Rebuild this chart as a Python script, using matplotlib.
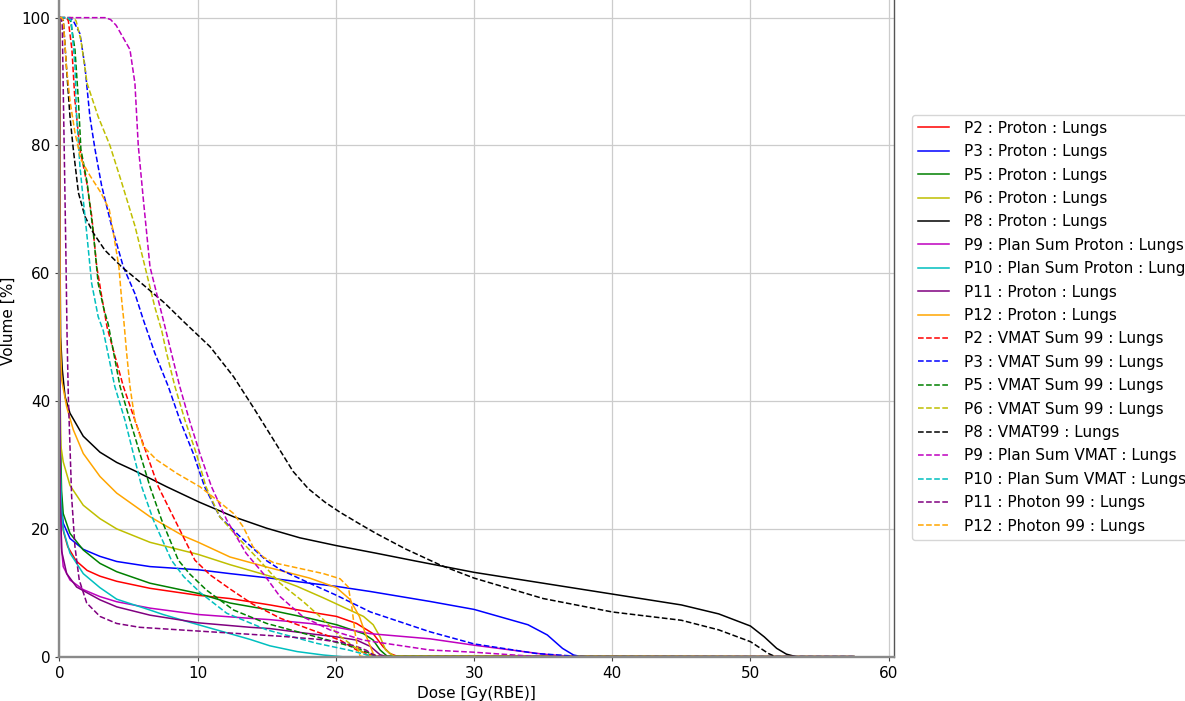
import matplotlib

matplotlib.use("Agg")
import matplotlib.pyplot as plt

# Cumulative DVH, lungs: proton plans (solid) vs VMAT / photon plans (dashed).
# Each series is dose [Gy(RBE)] and volume [%].

P2_PROTON_DOSE = [0, 0.02, 0.06, 0.12, 0.3, 0.6, 1.2, 2.0, 2.93, 4.14, 6.55, 10.05, 12.34, 15.23, 18.1, 20.05, 21.5, 22.7, 23.4, 23.9, 24.4, 57.5]
P2_PROTON_VOL = [100, 60, 30, 22.5, 19.5, 17.2, 15.0, 13.5, 12.6, 11.8, 10.7, 9.6, 9.1, 8.1, 7.0, 6.3, 5.2, 3.6, 1.6, 0.5, 0.1, 0]

P3_PROTON_DOSE = [0, 0.02, 0.06, 0.15, 0.27, 0.76, 1.72, 2.93, 4.14, 6.55, 10.05, 12.34, 15.23, 18.1, 20.05, 22.5, 26.8, 30, 33.9, 35.3, 36.4, 37.2, 37.8, 57.5]
P3_PROTON_VOL = [100, 60, 30, 23.5, 20.9, 18.5, 16.8, 15.7, 14.9, 14.1, 13.6, 13.0, 12.3, 11.5, 11.0, 10.2, 8.65, 7.4, 5.0, 3.4, 1.3, 0.26, 0, 0]

P5_PROTON_DOSE = [0, 0.02, 0.06, 0.15, 0.27, 0.76, 1.72, 2.93, 4.14, 6.55, 10.05, 12.34, 15.23, 18.1, 20.05, 22.0, 22.7, 23.2, 23.7, 57.5]
P5_PROTON_VOL = [100, 60, 35, 26, 22.4, 19.3, 16.7, 14.6, 13.3, 11.5, 9.9, 8.4, 7.3, 6.0, 5.0, 3.6, 2.6, 1.05, 0.1, 0]

P6_PROTON_DOSE = [0, 0.02, 0.05, 0.1, 0.27, 0.76, 1.72, 2.93, 4.14, 6.55, 10.05, 12.34, 15.23, 17.2, 19.1, 20.5, 22.0, 22.7, 23.2, 23.6, 24.2, 57.5]
P6_PROTON_VOL = [100, 60, 40, 33, 30.5, 26.8, 23.7, 21.6, 20.0, 17.9, 16.0, 14.4, 12.6, 11.0, 9.2, 7.8, 6.3, 5.0, 3.1, 1.05, 0.1, 0]

P8_PROTON_DOSE = [0, 0.02, 0.08, 0.2, 0.4, 0.76, 1.72, 2.93, 4.14, 5.34, 6.55, 7.75, 10.1, 12.6, 15.0, 17.4, 20.0, 22.9, 25.7, 30, 35, 40, 45, 47.7, 50, 51.0, 51.9, 52.6, 53.3, 57.5]
P8_PROTON_VOL = [100, 70, 50, 45, 40.7, 38.1, 34.5, 32.0, 30.4, 29.2, 27.9, 26.6, 24.2, 21.9, 20.1, 18.6, 17.4, 16.2, 15.0, 13.2, 11.5, 9.8, 8.1, 6.7, 4.8, 3.1, 1.3, 0.4, 0, 0]

P9_PROTON_DOSE = [0, 0.02, 0.06, 0.15, 0.27, 0.76, 1.72, 2.93, 4.14, 6.55, 10.05, 13.8, 15.23, 18.1, 20.05, 22.5, 26.8, 30, 35, 36.7, 37.5, 57.5]
P9_PROTON_VOL = [100, 50, 25, 17, 14.1, 12.0, 10.5, 9.4, 8.6, 7.6, 6.6, 6.0, 5.8, 5.2, 4.6, 3.6, 2.8, 1.8, 0.4, 0.1, 0, 0]

P10_PROTON_DOSE = [0, 0.02, 0.06, 0.15, 0.27, 0.76, 1.72, 2.93, 4.14, 6.55, 7.5, 9.4, 12.34, 13.8, 15.23, 17.2, 19.1, 20.5, 57.5]
P10_PROTON_VOL = [100, 50, 30, 23, 19.9, 16.2, 13.0, 10.8, 9.0, 7.3, 6.6, 5.4, 3.6, 2.7, 1.7, 0.8, 0.26, 0, 0]

P11_PROTON_DOSE = [0, 0.02, 0.06, 0.16, 0.52, 1.24, 2.93, 4.14, 6.55, 10.05, 13.8, 15.23, 18.1, 20.05, 21.5, 22.5, 23.2, 23.7, 57.5]
P11_PROTON_VOL = [100, 50, 25, 16.5, 13.0, 10.9, 8.9, 7.8, 6.5, 5.3, 4.6, 4.4, 3.6, 3.1, 2.6, 1.6, 0.3, 0, 0]

P12_PROTON_DOSE = [0, 0.02, 0.06, 0.16, 0.52, 1.0, 1.72, 2.93, 4.14, 6.55, 8.96, 10.05, 12.34, 15.23, 18.1, 20.05, 21.0, 21.7, 22.2, 22.7, 22.9, 57.5]
P12_PROTON_VOL = [100, 70, 50, 43.3, 39.1, 35.5, 31.8, 28.2, 25.6, 21.9, 18.9, 17.9, 15.6, 13.9, 12.3, 10.8, 9.0, 6.3, 3.2, 0.5, 0, 0]

P2_VMAT_DOSE = [0, 0.5, 0.64, 0.9, 1.12, 1.48, 1.97, 2.33, 2.7, 3.1, 3.45, 4.62, 5.46, 6.3, 7.15, 8.35, 9.8, 10.9, 12.34, 14.0, 16.0, 18.1, 20.3, 21.5, 22.5, 23.2, 57.5]
P2_VMAT_VOL = [100, 100, 99.5, 95, 87, 79.4, 74.2, 69, 61, 55.8, 51.5, 42.3, 37, 31.8, 26.6, 21.4, 15.1, 12.8, 10.6, 8.2, 6.0, 4.3, 2.6, 1.05, 0.3, 0, 0]

P3_VMAT_DOSE = [0, 0.8, 1.0, 1.48, 1.84, 2.2, 2.57, 3.05, 3.77, 4.62, 5.46, 6.07, 6.9, 7.87, 8.72, 9.68, 10.5, 11.6, 13.06, 15.0, 16.0, 18.1, 20.05, 22.5, 26.8, 30, 34.5, 37.2, 38, 57.5]
P3_VMAT_VOL = [100, 100, 99.5, 97.5, 92.4, 84.5, 79.4, 73.7, 67.4, 61, 56.8, 52.7, 47.5, 42.3, 37, 31.8, 26.6, 21.9, 18.8, 15.0, 13.6, 11.5, 9.6, 7.0, 3.9, 2.0, 0.5, 0.1, 0, 0]

P5_VMAT_DOSE = [0, 0.6, 0.8, 1.12, 1.37, 1.55, 2.0, 2.45, 2.8, 3.2, 3.53, 4.38, 5.1, 5.82, 6.55, 7.39, 8.6, 9.4, 10.65, 12.6, 15.0, 18.6, 21.3, 22.5, 23.0, 57.5]
P5_VMAT_VOL = [100, 100, 99.5, 95, 87, 79.4, 74.2, 66.3, 58.4, 54.5, 52.0, 42.3, 37, 31.8, 26.6, 21.4, 15.1, 13.0, 10.4, 7.3, 5.2, 3.1, 1.5, 0.5, 0, 0]

P6_VMAT_DOSE = [0, 1.0, 1.2, 1.55, 2.0, 2.8, 3.65, 4.5, 5.46, 6.19, 6.9, 7.4, 7.75, 8.35, 9.08, 9.9, 10.6, 11.6, 13.06, 14.5, 15.96, 17.65, 19.1, 20.3, 21.3, 22.2, 23.0, 57.5]
P6_VMAT_VOL = [100, 100, 99.5, 96.5, 89.7, 84.5, 80, 74.2, 67.4, 61, 54.7, 51, 47.5, 42.3, 37, 31.8, 26.6, 21.9, 18.3, 15.0, 11.5, 8.6, 5.8, 3.2, 1.6, 0.3, 0, 0]

P8_VMAT_DOSE = [0, 0.1, 0.28, 0.5, 0.76, 1.0, 1.37, 1.84, 2.45, 3.29, 4.5, 5.95, 7.63, 9.0, 10.9, 12.6, 14.0, 15.5, 16.9, 18.0, 19.2, 20.3, 21.7, 22.9, 25.0, 27.6, 30, 35, 40, 45, 47.7, 50, 51.3, 51.8, 57.5]
P8_VMAT_VOL = [100, 100, 99.5, 92.4, 84.5, 79.4, 72.6, 68.9, 66.3, 63.6, 61, 58.4, 55.3, 52.4, 48.5, 43.8, 39.1, 33.9, 29.0, 26.3, 24.2, 22.6, 20.8, 19.3, 16.9, 14.3, 12.3, 9.1, 7.0, 5.7, 4.2, 2.35, 0.5, 0, 0]

P9_VMAT_DOSE = [0, 3.3, 3.7, 4.1, 5.1, 5.46, 5.7, 6.07, 6.55, 7.15, 7.51, 8.1, 8.7, 9.4, 10.16, 11.0, 12.1, 13.5, 14.75, 15.96, 17.65, 19.57, 21.98, 26.8, 30, 34, 35, 57.5]
P9_VMAT_VOL = [100, 100, 99.7, 98.8, 95, 89.7, 80, 71.5, 61, 55.8, 52.7, 47.5, 42.3, 37, 31.8, 26.6, 21.4, 16.2, 13.0, 9.4, 6.2, 4.2, 2.6, 1.05, 0.7, 0.1, 0, 0]

P10_VMAT_DOSE = [0, 0.6, 0.85, 1.12, 1.24, 1.48, 1.72, 1.97, 2.33, 2.8, 3.17, 4.0, 4.74, 5.34, 5.95, 6.79, 8.1, 9.0, 10.2, 12.1, 15.0, 18.6, 21.0, 22.2, 22.8, 57.5]
P10_VMAT_VOL = [100, 100, 99.5, 92.4, 84.5, 76.7, 71.5, 66.3, 58.4, 53.2, 51, 42.3, 37, 31.8, 26.6, 21.4, 15.1, 12.5, 10.0, 6.8, 4.2, 2.1, 1.0, 0.3, 0, 0]

P11_VMAT_DOSE = [0, 0.1, 0.2, 0.3, 0.45, 0.55, 0.64, 0.88, 1.12, 1.43, 1.97, 2.93, 4.14, 5.8, 9.4, 13.1, 16.0, 18.8, 20.5, 21.5, 22.2, 22.7, 23.3, 57.5]
P11_VMAT_VOL = [100, 100, 99, 85, 65, 50, 40.7, 25, 17.2, 12, 8.4, 6.3, 5.2, 4.6, 4.1, 3.6, 3.2, 2.7, 2.2, 1.6, 1.0, 0.3, 0, 0]

P12_VMAT_DOSE = [0, 0.15, 0.28, 0.5, 0.76, 1.12, 1.55, 2.2, 3.0, 3.6, 3.9, 4.3, 4.5, 4.65, 4.86, 5.1, 5.46, 6.07, 7.03, 8.48, 10.16, 11.4, 12.6, 13.3, 14.0, 14.75, 15.5, 17.2, 19.1, 20.3, 20.9, 21.15, 21.4, 21.6, 21.75, 22.0, 57.5]
P12_VMAT_VOL = [100, 100, 99.5, 92.4, 87, 82, 77.8, 75.3, 72.6, 70, 66.3, 61, 55.8, 52.7, 47.5, 42.3, 37, 32.9, 30.8, 28.7, 26.6, 24.5, 22.4, 20.3, 17.2, 15.6, 14.7, 13.9, 13.0, 12.2, 10.9, 7.8, 3.6, 1.05, 0.1, 0, 0]

SERIES = [
    ("P2 : Proton : Lungs", P2_PROTON_DOSE, P2_PROTON_VOL, "r", "-"),
    ("P3 : Proton : Lungs", P3_PROTON_DOSE, P3_PROTON_VOL, "b", "-"),
    ("P5 : Proton : Lungs", P5_PROTON_DOSE, P5_PROTON_VOL, "g", "-"),
    ("P6 : Proton : Lungs", P6_PROTON_DOSE, P6_PROTON_VOL, "y", "-"),
    ("P8 : Proton : Lungs", P8_PROTON_DOSE, P8_PROTON_VOL, "k", "-"),
    ("P9 : Plan Sum Proton : Lungs", P9_PROTON_DOSE, P9_PROTON_VOL, "m", "-"),
    ("P10 : Plan Sum Proton : Lungs", P10_PROTON_DOSE, P10_PROTON_VOL, "c", "-"),
    ("P11 : Proton : Lungs", P11_PROTON_DOSE, P11_PROTON_VOL, "purple", "-"),
    ("P12 : Proton : Lungs", P12_PROTON_DOSE, P12_PROTON_VOL, "orange", "-"),
    ("P2 : VMAT Sum 99 : Lungs", P2_VMAT_DOSE, P2_VMAT_VOL, "r", "--"),
    ("P3 : VMAT Sum 99 : Lungs", P3_VMAT_DOSE, P3_VMAT_VOL, "b", "--"),
    ("P5 : VMAT Sum 99 : Lungs", P5_VMAT_DOSE, P5_VMAT_VOL, "g", "--"),
    ("P6 : VMAT Sum 99 : Lungs", P6_VMAT_DOSE, P6_VMAT_VOL, "y", "--"),
    ("P8 : VMAT99 : Lungs", P8_VMAT_DOSE, P8_VMAT_VOL, "k", "--"),
    ("P9 : Plan Sum VMAT : Lungs", P9_VMAT_DOSE, P9_VMAT_VOL, "m", "--"),
    ("P10 : Plan Sum VMAT : Lungs", P10_VMAT_DOSE, P10_VMAT_VOL, "c", "--"),
    ("P11 : Photon 99 : Lungs", P11_VMAT_DOSE, P11_VMAT_VOL, "purple", "--"),
    ("P12 : Photon 99 : Lungs", P12_VMAT_DOSE, P12_VMAT_VOL, "orange", "--"),
]

fig = plt.figure(figsize=(11.85, 7.01), dpi=100)
ax = fig.add_axes([0.0502, 0.0632, 0.7041, 0.9572])

for label, dose, vol, color, ls in SERIES:
    ax.plot(dose, vol, color=color, linestyle=ls, linewidth=1.1, label=label)

ax.set_xlim(left=0)
ax.set_ylim(bottom=0)
ax.grid(True, color="#cccccc", linewidth=0.9)
ax.set_axisbelow(True)
for side in ("left", "bottom"):
    ax.spines[side].set_color("#8a8a8a")
    ax.spines[side].set_linewidth(1.7)
for side in ("right", "top"):
    ax.spines[side].set_color("#555555")
    ax.spines[side].set_linewidth(1.0)
ax.tick_params(labelsize=11, length=3, color="#444444")
ax.set_xlabel("Dose [Gy(RBE)]", fontsize=11)
ax.set_ylabel("Volume [%]", fontsize=11)
ax.legend(loc="center left", bbox_to_anchor=(1.013, 0.491), fontsize=11,
          labelspacing=0.55, handletextpad=0.95)

fig.savefig("out.png", dpi=100)
